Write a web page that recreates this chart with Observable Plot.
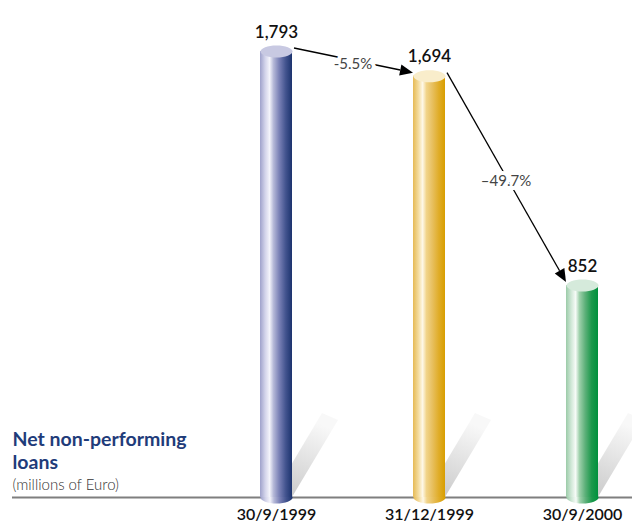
<!DOCTYPE html>
<html><head><meta charset="utf-8">
<script src="https://cdn.jsdelivr.net/npm/d3@7"></script>
<script src="https://cdn.jsdelivr.net/npm/@observablehq/plot@0.6"></script>
<style>
body{margin:0;background:#fff;}
#chart svg{font-family:Lato, "Open Sans", sans-serif;}
</style>
</head><body><div id="chart"></div>
<script>
// ---- data ----
const dates = ["30/9/1999", "31/12/1999", "30/9/2000"];
const values = [1793, 1694, 852];
const valueLabels = ["1,793", "1,694", "852"];
const changeLabels = ["-5.5%", "–49.7%"];
const seriesIds = ["blue", "gold", "green"];
const titleLine1 = "Net non-performing";
const titleLine2 = "loans";
const subtitleText = "(millions of Euro)";

// ---- styles ----
const topColors = {blue: "#c8c9e2", gold: "#f9edcb", green: "#d5eadb"};
const gradientStops = {
  blue: [[0, "#9fa2cb"], [0.16, "#d2d3ea"], [0.3, "#f4f4fb"], [0.42, "#b6b9d8"], [0.6, "#7a81b6"], [0.8, "#43548f"], [1, "#1c336e"]],
  gold: [[0, "#e6ba55"], [0.16, "#f3da9a"], [0.3, "#fef8e8"], [0.42, "#f1d48a"], [0.6, "#e8c060"], [0.8, "#e0ad2a"], [1, "#d89e00"]],
  green: [[0, "#9bcba8"], [0.16, "#cfe7d6"], [0.3, "#f6fbf7"], [0.42, "#9ed0ab"], [0.6, "#5db079"], [0.8, "#1c994c"], [1, "#00913d"]]
};
const RX = 16, RY = 6;

const data = dates.map((d, i) => ({i, date: d, value: values[i], label: valueLabels[i], id: seriesIds[i]}));
const changes = changeLabels.map((t, k) => ({from: k, to: k + 1, text: t}));

const ellipse = {
  draw(ctx) {
    const k = 0.5523;
    ctx.moveTo(-RX, 0);
    ctx.bezierCurveTo(-RX, -k * RY, -k * RX, -RY, 0, -RY);
    ctx.bezierCurveTo(k * RX, -RY, RX, -k * RY, RX, 0);
    ctx.bezierCurveTo(RX, k * RY, k * RX, RY, 0, RY);
    ctx.bezierCurveTo(-k * RX, RY, -RX, k * RY, -RX, 0);
    ctx.closePath();
  }
};

function defsMark() {
  const defs = d3.create("svg:defs");
  for (const id of seriesIds) {
    const g = defs.append("linearGradient").attr("id", "grad-" + id)
      .attr("x1", 0).attr("y1", 0).attr("x2", 1).attr("y2", 0);
    for (const [o, c] of gradientStops[id]) g.append("stop").attr("offset", o).attr("stop-color", c);
  }
  const s = defs.append("linearGradient").attr("id", "grad-shadow")
    .attr("x1", 0).attr("y1", 1).attr("x2", 0.35).attr("y2", 0);
  s.append("stop").attr("offset", 0).attr("stop-color", "#c6c6c6");
  s.append("stop").attr("offset", 0.55).attr("stop-color", "#e2e2e2");
  s.append("stop").attr("offset", 1).attr("stop-color", "#f8f8f8");
  return defs.node();
}

function shadowMark(index, scales) {
  const g = d3.create("svg:g");
  const by = scales.y(0);
  for (const d of data) {
    const cx = scales.x(d.i);
    g.append("path")
      .attr("d", `M${cx - 4},${by}L${cx + 46},${by - 84}L${cx + 62},${by - 77}L${cx + 16},${by}Z`)
      .attr("fill", "url(#grad-shadow)");
  }
  return g.node();
}

function arrowMark(index, scales) {
  const g = d3.create("svg:g");
  for (const c of changes) {
    const sx = scales.x(c.from) + RX + 2, sy = scales.y(values[c.from]) - 3;
    const tx = scales.x(c.to) - RX, ty = scales.y(values[c.to]) - 3;
    const dx = tx - sx, dy = ty - sy, L = Math.hypot(dx, dy), ux = dx / L, uy = dy / L;
    const hl = 13, hw = 5.5;
    const bx = tx - ux * hl, bY = ty - uy * hl;
    g.append("line").attr("x1", sx).attr("y1", sy).attr("x2", bx).attr("y2", bY)
      .attr("stroke", "#000").attr("stroke-width", 1.3);
    g.append("path")
      .attr("d", `M${tx},${ty}L${bx - uy * hw},${bY + ux * hw}L${bx + uy * hw},${bY - ux * hw}Z`)
      .attr("fill", "#000");
  }
  return g.node();
}

const unit = (582 - 276) / 2;
const titleStyle = {frameAnchor: "bottom-left", textAnchor: "start", lineAnchor: "bottom",
  fontSize: 19.5, fontWeight: 700, fill: "#1f3c7a"};

const chart = Plot.plot({
  width: 632,
  height: 523,
  marginTop: 51,
  marginBottom: 26,
  marginLeft: 12,
  marginRight: 0,
  x: {domain: [0, 2], range: [276, 582], axis: null},
  y: {domain: [0, 1793], axis: null},
  color: {type: "identity"},
  marks: [
    defsMark,
    Plot.ruleY([0], {stroke: "#7f7f7f", strokeWidth: 2}),
    shadowMark,
    Plot.dot(data, {x: "i", y: () => 0, symbol: ellipse, fill: d => `url(#grad-${d.id})`}),
    Plot.rectY(data, {x1: d => d.i - 0.5, x2: d => d.i + 0.5, y1: () => 0, y2: "value",
      insetLeft: (unit - 2 * RX) / 2, insetRight: (unit - 2 * RX) / 2, fill: d => `url(#grad-${d.id})`}),
    Plot.dot(data, {x: "i", y: "value", symbol: ellipse, fill: d => topColors[d.id]}),
    arrowMark,
    Plot.text(changes, {x: c => (c.from + c.to) / 2, y: c => (values[c.from] + values[c.to]) / 2,
      text: "text", fill: "#444", stroke: "white", strokeWidth: 8, paintOrder: "stroke", fontSize: 15}),
    Plot.text(data, {x: "i", y: "value", text: "label", dy: -(RY + 8), lineAnchor: "bottom",
      fontSize: 17, fontWeight: 600, fill: "#111"}),
    Plot.text([titleLine1], {text: d => d, dy: -52, ...titleStyle}),
    Plot.text([titleLine2], {text: d => d, dy: -29, ...titleStyle}),
    Plot.text([subtitleText], {text: d => d, frameAnchor: "bottom-left", textAnchor: "start", lineAnchor: "bottom",
      dy: -8, fontSize: 15, fontWeight: 300, fill: "#333"}),
    Plot.axisX({ticks: [0, 1, 2], tickFormat: i => dates[i], tickSize: 0, tickPadding: 11,
      fontSize: 16, fontWeight: 600, fill: "#111", label: null})
  ]
});
document.getElementById("chart").appendChild(chart);
</script>
</body></html>
